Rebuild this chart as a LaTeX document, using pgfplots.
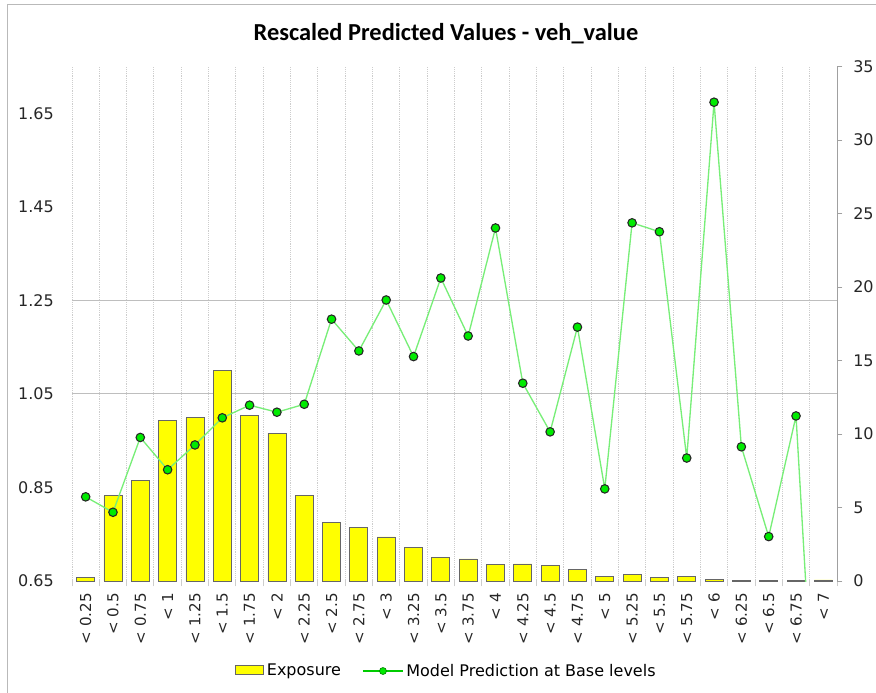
\documentclass[border=0pt]{standalone}
\usepackage{fontspec}
\setmainfont{DejaVu Sans}
\newfontfamily\titlefont{Carlito}
\usepackage{pgfplots}
\usepackage{pgfplotstable}
\pgfplotsset{compat=1.18}
\definecolor{barY}{RGB}{255,255,0}
\definecolor{lineG}{RGB}{120,238,120}
\definecolor{markG}{RGB}{0,235,0}
\definecolor{gridG}{RGB}{205,205,205}
\definecolor{axG}{RGB}{160,160,160}
\definecolor{hgrid}{RGB}{190,190,190}

\pgfplotstableread{
x y
0.5 0.22
1.5 5.8
2.5 6.85
3.5 10.95
4.5 11.1
5.5 14.3
6.5 11.25
7.5 10.05
8.5 5.8
9.5 3.96
10.5 3.66
11.5 3.0
12.5 2.3
13.5 1.59
14.5 1.5
15.5 1.14
16.5 1.16
17.5 1.04
18.5 0.8
19.5 0.3
20.5 0.45
21.5 0.27
22.5 0.3
23.5 0.12
24.5 0.05
25.5 0.05
26.5 0.05
27.5 0.07
}\exposure

\pgfplotstableread{
x y
0.5 0.830
1.5 0.797
2.5 0.957
3.5 0.888
4.5 0.941
5.5 0.999
6.5 1.026
7.5 1.011
8.5 1.028
9.5 1.210
10.5 1.142
11.5 1.251
12.5 1.130
13.5 1.298
14.5 1.174
15.5 1.405
16.5 1.073
17.5 0.969
18.5 1.193
19.5 0.847
20.5 1.416
21.5 1.397
22.5 0.913
23.5 1.674
24.5 0.937
25.5 0.745
26.5 1.003
27.5 0.0
}\prediction

\begin{document}
\begin{tikzpicture}
\begin{axis}[
  at={(54pt,-435.75pt)}, anchor=south west,
  scale only axis, width=573.75pt, height=385.75pt,
  xmin=0, xmax=28, ymin=0, ymax=35,
  axis y line*=right, axis x line*=bottom,
  x axis line style={draw=none},
  y axis line style={draw=axG, line width=0.75pt},
  tick align=outside, major tick length=4pt,
  xtick={0,1,...,28}, xticklabels={},
  xmajorgrids,
  major x grid style={gridG, densely dotted, line width=0.75pt},
  x tick style={draw=gridG, line width=0.75pt},
  y tick style={draw=axG, line width=0.75pt},
  extra x ticks={0.5,1.5,...,27.5},
  extra x tick labels={< 0.25,< 0.5,< 0.75,< 1,< 1.25,< 1.5,< 1.75,< 2,< 2.25,< 2.5,< 2.75,< 3,< 3.25,< 3.5,< 3.75,< 4,< 4.25,< 4.5,< 4.75,< 5,< 5.25,< 5.5,< 5.75,< 6,< 6.25,< 6.5,< 6.75,< 7},
  extra x tick style={major tick length=0pt, grid=none,
     tick label style={rotate=90, anchor=east, inner xsep=9pt, font=\fontsize{11.3}{13}\selectfont, text=black!85}},
  ytick={0,5,10,15,20,25,30,35},
  yticklabels={0,5,10,15,20,25,30,35},
  y tick label style={font=\fontsize{12}{14}\selectfont, text=black!85, inner xsep=2pt, xshift=6pt},
  extra y ticks={12.7273,19.0909},
  extra y tick labels={},
  extra y tick style={major tick length=0pt, grid=major, major grid style={hgrid, line width=0.75pt}},
]
\addplot[ybar, bar width=13.5pt, fill=barY, draw=black!60, line width=0.6pt] table[x=x,y=y] {\exposure};
\end{axis}

\begin{axis}[
  at={(54pt,-435.75pt)}, anchor=south west,
  scale only axis, width=573.75pt, height=385.75pt,
  xmin=0, xmax=28, ymin=0.65, ymax=1.75,
  hide x axis,
  axis y line*=left,
  y axis line style={draw=none},
  major tick length=0pt,
  ytick={0.65,0.85,1.05,1.25,1.45,1.65},
  yticklabels={0.65,0.85,1.05,1.25,1.45,1.65},
  y tick label style={font=\fontsize{12}{14}\selectfont, text=black!85, inner xsep=13.5pt},
  legend columns=2,
  legend style={at={(0.49,-0.175)}, anchor=center, draw=none, fill=none,
     font=\fontsize{12}{14}\selectfont,
     /tikz/every even column/.append style={column sep=14pt}},
]
\addlegendimage{legend image code/.code={\draw[fill=barY, draw=black!60, line width=0.6pt] (0pt,-2.5pt) rectangle (21pt,4.25pt);}}
\addlegendentry{Exposure}
\addplot[lineG, line width=1pt, mark=*, mark size=3.2pt,
   mark options={fill=markG, draw=black!85, line width=0.8pt},
   legend image code/.code={\draw[green!80!black, line width=1pt] (0pt,0pt) -- (30pt,0pt);
      \fill[markG, draw=green!50!black, line width=0.5pt] (15pt,0pt) circle (2.6pt);}]
   table[x=x,y=y] {\prediction};
\addlegendentry{Model Prediction at Base levels}
\end{axis}

\node[anchor=base, font=\titlefont\bfseries\fontsize{18.3}{20}\selectfont] at (334.5pt,-30pt) {Rescaled Predicted Values - veh\_value};
\draw[gray!55, line width=0.75pt] (5.25pt,-519.75pt) -- (5.25pt,-3pt) -- (657pt,-3pt);
\pgfresetboundingbox
\useasboundingbox (0pt,0pt) rectangle (657pt,-519.75pt);
\end{tikzpicture}
\end{document}
